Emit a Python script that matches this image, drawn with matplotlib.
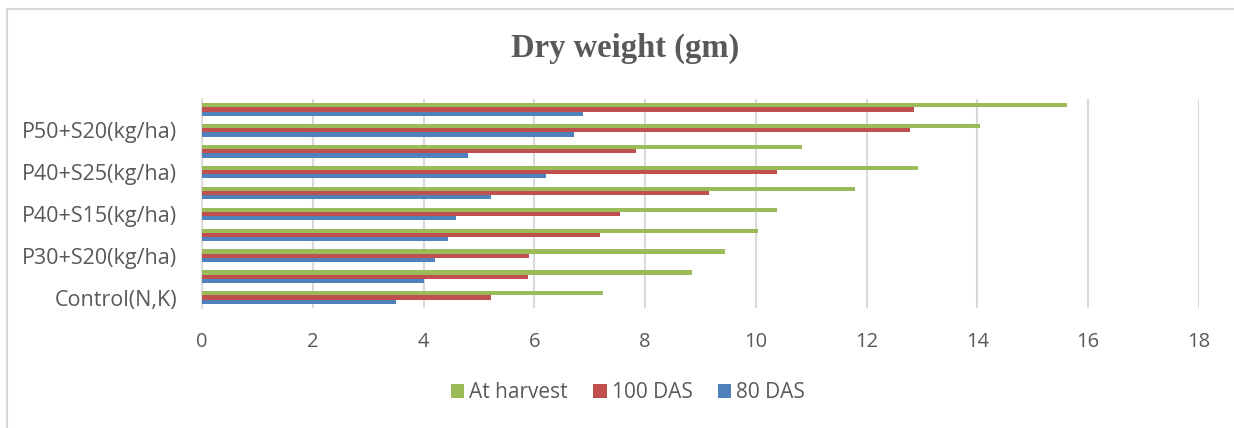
import numpy as np
import matplotlib.pyplot as plt
from matplotlib.lines import Line2D

# treatments, bottom to top (only every other one is labelled in the original)
treatments = ['Control(N,K)', 'P30+S15(kg/ha)', 'P30+S20(kg/ha)', 'P30+S25(kg/ha)',
              'P40+S15(kg/ha)', 'P40+S20(kg/ha)', 'P40+S25(kg/ha)', 'P50+S15(kg/ha)',
              'P50+S20(kg/ha)', 'P50+S25(kg/ha)']
das80 = [3.51, 4.01, 4.21, 4.44, 4.58, 5.21, 6.21, 4.81, 6.71, 6.88]
das100 = [5.22, 5.89, 5.91, 7.19, 7.54, 9.15, 10.38, 7.84, 12.79, 12.85]
harvest = [7.24, 8.85, 9.45, 10.04, 10.38, 11.79, 12.92, 10.84, 14.05, 15.62]
xticks = [0, 2, 4, 6, 8, 10, 12, 14, 16, 18]

W, H = 1234, 428
fig = plt.figure(figsize=(W / 100, H / 100), dpi=100)
ax = fig.add_axes([202 / W, 1 - 308 / H, (1199 - 202) / W, 209 / H])

y = np.arange(len(treatments))
h = 0.2
ax.barh(y - h, das80, h, color='#4F81BD', label='80 DAS', zorder=3)
ax.barh(y, das100, h, color='#C0504D', label='100 DAS', zorder=3)
ax.barh(y + h, harvest, h, color='#9BBB59', label='At harvest', zorder=3)

ax.set_xlim(0, 18)
ax.set_ylim(-0.5, len(treatments) - 0.5)
ax.set_xticks(xticks)
ax.set_yticks(y[::2])
ax.set_yticklabels(treatments[::2])
ax.xaxis.grid(True, color='#D9D9D9', linewidth=1.5, zorder=0)
for s in ['top', 'right', 'bottom']:
    ax.spines[s].set_visible(False)
ax.spines['left'].set_color('#D9D9D9')
ax.spines['left'].set_linewidth(1.2)
ax.tick_params(length=0, labelcolor='#595959')
ax.tick_params(axis='x', labelsize=14.5, pad=17)
ax.tick_params(axis='y', labelsize=15.5, pad=18)
for lab in ax.get_xticklabels() + ax.get_yticklabels():
    lab.set_family('Open Sans')

fig.text(625 / W, 1 - 48 / H, 'Dry weight (gm)', ha='center', va='center',
         family='Liberation Serif', fontweight='bold', fontsize=23.5, color='#595959')

handles, labels = ax.get_legend_handles_labels()
fig.legend(handles[::-1], labels[::-1], loc='center', bbox_to_anchor=(628 / W, 1 - 393 / H),
           ncol=3, frameon=False, prop={'family': 'Open Sans', 'size': 15},
           labelcolor='#595959', handlelength=0.65, handleheight=0.65,
           handletextpad=0.25, columnspacing=1.2)

# chart area border (top and left edges visible)
fig.add_artist(Line2D([6.5 / W, 6.5 / W], [0, 1 - 8.5 / H], transform=fig.transFigure,
                      color='#D9D9D9', linewidth=1.5))
fig.add_artist(Line2D([6.5 / W, 1], [1 - 8.5 / H, 1 - 8.5 / H], transform=fig.transFigure,
                      color='#D9D9D9', linewidth=1.5))

fig.savefig('out.png', dpi=100)
